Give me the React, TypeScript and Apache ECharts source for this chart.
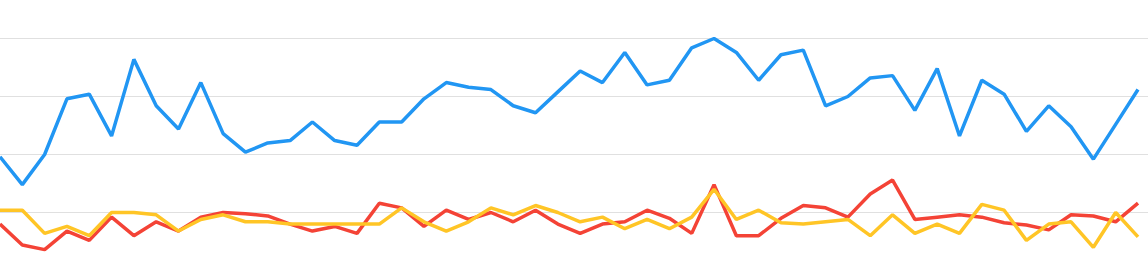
import React, { useEffect, useRef } from "react";
import * as echarts from "echarts";

const categories: string[] = Array.from({ length: 52 }, (_, i) => `W${i + 1}`);

const blueValues: number[] = [
  49, 37, 50, 74, 76, 58, 91, 71, 61, 81, 59, 51, 55, 56, 64, 56, 54, 64, 64, 74,
  81, 79, 78, 71, 68, 77, 86, 81, 94, 80, 82, 96, 100, 94, 82, 93, 95, 71, 75, 83,
  84, 69, 87, 58, 82, 76, 60, 71, 62, 48, 63, 78,
];

const redValues: number[] = [
  20, 11, 9, 17, 13, 23, 15, 21, 17, 23, 25, 24.5, 23.5, 20, 17, 19, 16, 29, 27, 19,
  26, 22, 25, 21, 26, 20, 16, 20, 21, 26, 22.5, 16, 37, 15, 15, 22.5, 28, 27, 23, 33,
  39, 22, 23, 24, 23, 20.6, 19.6, 17.5, 24, 23.5, 21, 29,
];

const yellowValues: number[] = [
  26, 26, 16, 19, 15, 25, 25, 24, 17, 22, 24, 21, 21, 20, 20, 20, 20, 20, 27, 21,
  17, 21, 27, 24, 28, 25, 21, 23, 18, 22, 18, 23, 35, 22, 26, 20.6, 20, 21, 22, 15,
  24, 16, 20, 16, 28.5, 26, 13, 20, 21, 10, 25, 14.5,
];

const yTicks = { min: 0, max: 100, interval: 25 };

export default function App() {
  const ref = useRef<HTMLDivElement>(null);
  useEffect(() => {
    if (!ref.current) return;
    const chart = echarts.init(ref.current, undefined, { renderer: "svg" });
    const mkLine = (name: string, data: number[], color: string) => ({
      name,
      type: "line",
      xAxisIndex: 0,
      yAxisIndex: 0,
      data,
      symbol: "none",
      smooth: false,
      lineStyle: { color, width: 3.5 },
      itemStyle: { color },
    });
    const hiddenX = {
      type: "category",
      data: categories,
      boundaryGap: false,
      axisLine: { show: false },
      axisTick: { show: false },
      axisLabel: { show: false },
      splitLine: { show: false },
    };
    chart.setOption({
      animation: false,
      grid: [
        { left: 0, right: 10, top: 38.5, height: 232 },
        { left: 0, right: 0, top: 38.5, height: 232 },
      ],
      xAxis: [
        { ...hiddenX, gridIndex: 0 },
        { ...hiddenX, gridIndex: 1 },
      ],
      yAxis: [
        {
          type: "value",
          gridIndex: 0,
          min: yTicks.min,
          max: yTicks.max,
          interval: yTicks.interval,
          axisLine: { show: false },
          axisTick: { show: false },
          axisLabel: { show: false },
          splitLine: { show: false },
        },
        {
          type: "value",
          gridIndex: 1,
          min: yTicks.min,
          max: yTicks.max,
          interval: yTicks.interval,
          axisLine: { show: false },
          axisTick: { show: false },
          axisLabel: { show: false },
          splitLine: { show: true, lineStyle: { color: "#e0e0e0", width: 1 } },
        },
      ],
      series: [
        mkLine("Blue", blueValues, "#2196F3"),
        mkLine("Red", redValues, "#F44336"),
        mkLine("Yellow", yellowValues, "#FFC526"),
      ],
    });
    return () => chart.dispose();
  }, []);
  return (
    <div style={{ position: "fixed", left: 0, top: 0, width: 1148, height: 261, overflow: "hidden", background: "#fff" }}>
      <div ref={ref} style={{ width: 1148, height: 300 }} />
    </div>
  );
}
